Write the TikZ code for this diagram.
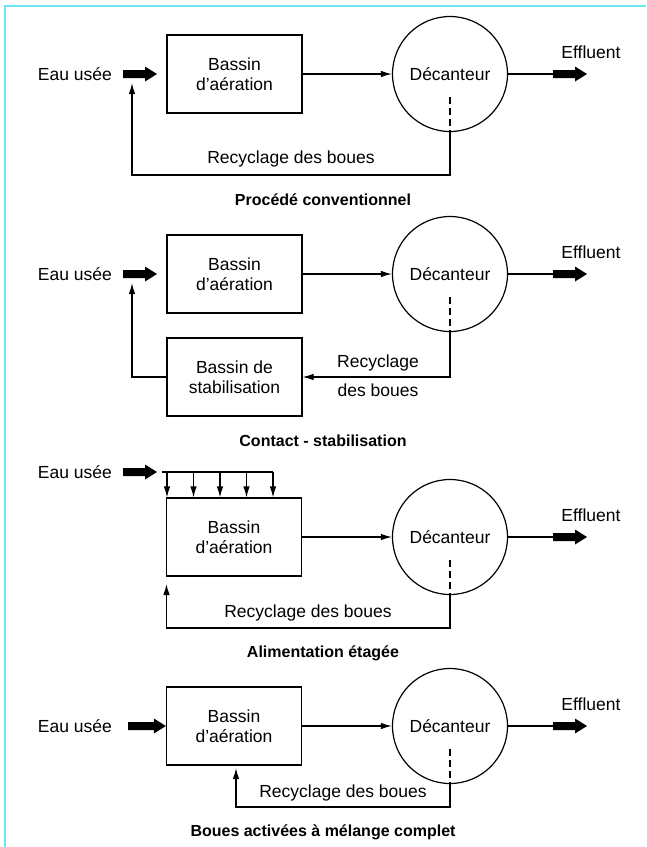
\documentclass[tikz,border=0pt]{standalone}
\usepackage{fontspec}
\setmainfont{Liberation Sans}
\usetikzlibrary{arrows.meta,calc}
\definecolor{framecyan}{RGB}{105,230,240}
\newcommand{\fatarrow}[2]{\fill let \p1=(#1), \p2=(#2) in (\x1,\y1+4pt) -- (\x2-12pt,\y1+4pt) -- (\x2-12pt,\y1+7.5pt) -- (\x2,\y1) -- (\x2-12pt,\y1-7.5pt) -- (\x2-12pt,\y1-4pt) -- (\x1,\y1-4pt) -- cycle;}
\tikzset{
  txt/.style={font=\fontsize{17.5}{20}\selectfont, inner sep=0pt, align=center},
  ttl/.style={font=\fontsize{16}{19}\selectfont\bfseries, inner sep=0pt},
  bassin/.style={draw, line width=1.2pt, minimum width=135pt, minimum height=78pt, inner sep=0pt, align=center, font=\fontsize{17.5}{20}\selectfont},
  decant/.style={draw, circle, minimum size=115pt, inner sep=0pt, line width=1.2pt, font=\fontsize{17.5}{20}\selectfont},
  conn/.style={line width=1.2pt, -{Latex[length=11pt,width=6.5pt]}},
  plainln/.style={line width=1.2pt},
  dashln/.style={line width=1.2pt, dash pattern=on 7pt off 4pt},
}
\begin{document}
\begin{tikzpicture}[x=1pt,y=-1pt]
\useasboundingbox (0,0) rectangle (646,847);
\draw[framecyan, line width=2pt] (5,847) -- (5,6) -- (646,6);

% ---------- Section 1 ----------
\node[txt, anchor=east] (eau1) at (112,74) {Eau usée};
\coordinate (fa1s) at (123,74); \coordinate (fa1e) at (157,74);
\fatarrow{fa1s}{fa1e}
\node[bassin] (b1) at (234.5,74) {Bassin\\d'aération};
\node[decant] (d1) at (450,74) {Décanteur};
\draw[conn] (b1.east) -- (d1.west);
\coordinate (ef1s) at (553,74); \coordinate (ef1e) at (587,74);
\draw[plainln] (d1.east) -- (ef1s);
\fatarrow{ef1s}{ef1e}
\node[txt] (eff1) at (591,52) {Effluent};
\coordinate (ds1) at (450,97);
\draw[dashln] (ds1) -- (d1.south);
\coordinate (rc1) at (132,175); \coordinate (rt1) at (132,83);
\draw[conn] (d1.south) |- (rc1) -- (rt1);
\node[txt] (rl1) at (291,159) {Recyclage des boues};
\node[ttl] (t1) at (323,200) {Procédé conventionnel};

% ---------- Section 2 ----------
\node[txt, anchor=east] (eau2) at (112,274) {Eau usée};
\coordinate (fa2s) at (123,274); \coordinate (fa2e) at (157,274);
\fatarrow{fa2s}{fa2e}
\node[bassin] (b2) at (234.5,274) {Bassin\\d'aération};
\node[decant] (d2) at (450,274) {Décanteur};
\draw[conn] (b2.east) -- (d2.west);
\coordinate (ef2s) at (553,274); \coordinate (ef2e) at (587,274);
\draw[plainln] (d2.east) -- (ef2s);
\fatarrow{ef2s}{ef2e}
\node[txt] (eff2) at (591,252) {Effluent};
\node[bassin] (s2) at (234.5,377) {Bassin de\\stabilisation};
\coordinate (ds2) at (450,297);
\draw[dashln] (ds2) -- (d2.south);
\draw[conn] (d2.south) |- (s2.east);
\coordinate (rc2) at (132,377); \coordinate (rt2) at (132,283);
\draw[conn] (s2.west) -- (rc2) -- (rt2);
\node[txt] (rl2a) at (378,363) {Recyclage};
\node[txt] (rl2b) at (378,390) {des boues};
\node[ttl] (t2) at (323,441) {Contact - stabilisation};

% ---------- Section 3 ----------
\node[txt, anchor=east] (eau3) at (112,472) {Eau usée};
\coordinate (fa3s) at (123,472); \coordinate (fa3e) at (157,472);
\fatarrow{fa3s}{fa3e}
\node[bassin] (b3) at (234,537) {Bassin\\d'aération};
\coordinate (dl3s) at (162,472); \coordinate (dl3e) at (273,472);
\draw[plainln] (dl3s) -- (dl3e);
\foreach \i/\xx in {1/167,2/193.5,3/220,4/246.5,5/273}{
  \coordinate (dt\i) at (\xx,472);
  \draw[conn] (dt\i) -- (dt\i |- b3.north);
}
\node[decant] (d3) at (450,537) {Décanteur};
\draw[conn] (b3.east) -- (d3.west);
\coordinate (ef3s) at (553,537); \coordinate (ef3e) at (587,537);
\draw[plainln] (d3.east) -- (ef3s);
\fatarrow{ef3s}{ef3e}
\node[txt] (eff3) at (591,515) {Effluent};
\coordinate (ds3) at (450,560);
\draw[dashln] (ds3) -- (d3.south);
\coordinate (rc3) at (166.5,628); \coordinate (rt3) at (166.5,584);
\draw[conn] (d3.south) |- (rc3) -- (rt3);
\node[txt] (rl3) at (308,613) {Recyclage des boues};
\node[ttl] (t3) at (323,653) {Alimentation étagée};

% ---------- Section 4 ----------
\node[txt, anchor=east] (eau4) at (112,726) {Eau usée};
\node[bassin] (b4) at (234,726) {Bassin\\d'aération};
\coordinate (fa4s) at (128,726);
\fatarrow{fa4s}{b4.west}
\node[decant] (d4) at (450,726) {Décanteur};
\draw[conn] (b4.east) -- (d4.west);
\coordinate (ef4s) at (553,726); \coordinate (ef4e) at (587,726);
\draw[plainln] (d4.east) -- (ef4s);
\fatarrow{ef4s}{ef4e}
\node[txt] (eff4) at (591,704) {Effluent};
\coordinate (ds4) at (450,749);
\draw[dashln] (ds4) -- (d4.south);
\coordinate (rc4) at (236,807); \coordinate (rt4) at (236,768);
\draw[conn] (d4.south) |- (rc4) -- (rt4);
\node[txt] (rl4) at (343,793) {Recyclage des boues};
\node[ttl] (t4) at (323,832) {Boues activées à mélange complet};
\end{tikzpicture}
\end{document}
